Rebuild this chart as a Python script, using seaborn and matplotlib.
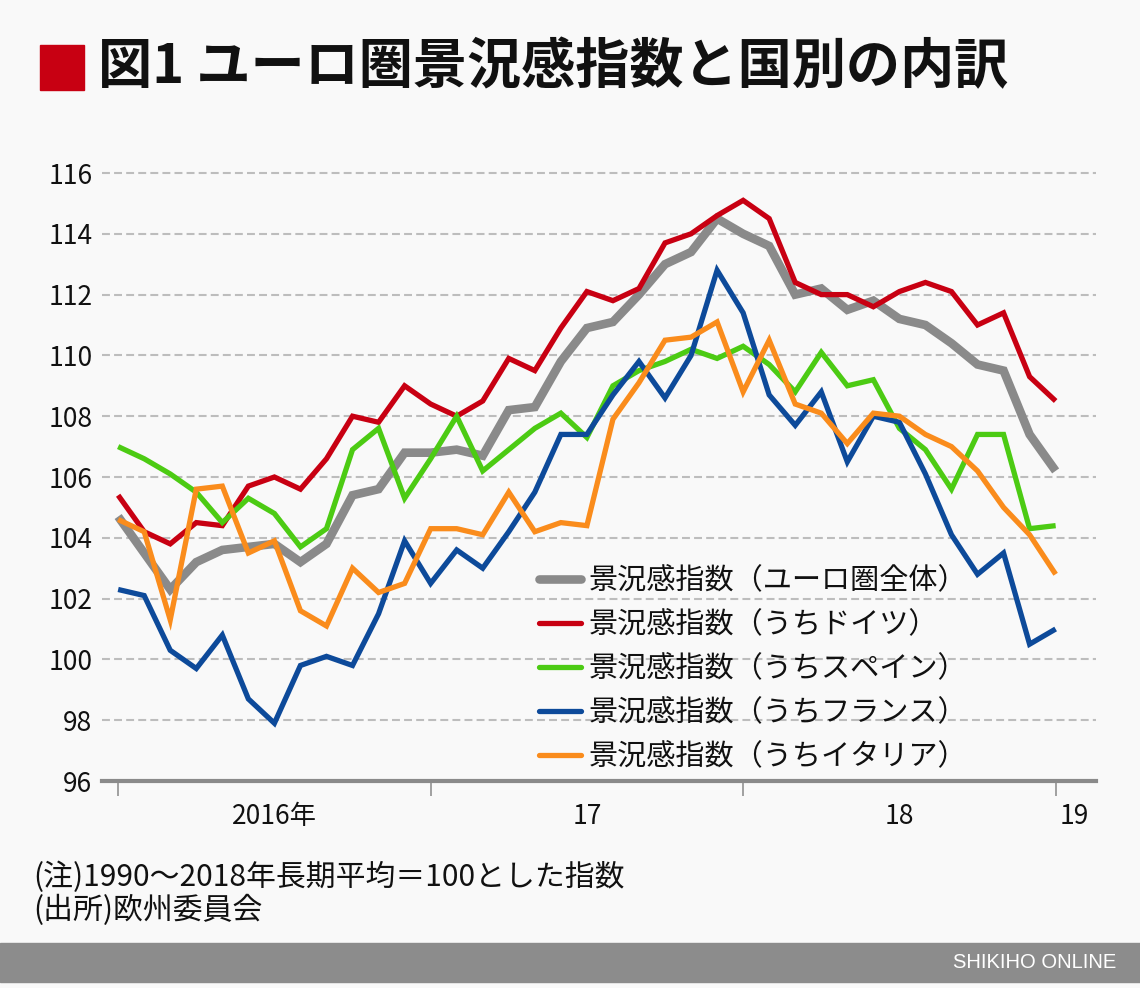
import numpy as np
import pandas as pd
import matplotlib
matplotlib.use("Agg")
import matplotlib.pyplot as plt
from matplotlib.patches import Rectangle
from matplotlib.lines import Line2D
import seaborn as sns

# ---------------- data ----------------
months = [f"{y}-{m:02d}" for y in (2016, 2017, 2018) for m in range(1, 13)] + ["2019-01"]

euro = [104.7, 103.5, 102.3, 103.2, 103.6, 103.7, 103.8, 103.2, 103.8, 105.4,
        105.6, 106.8, 106.8, 106.9, 106.7, 108.2, 108.3, 109.8, 110.9, 111.1,
        112.0, 113.0, 113.4, 114.5, 114.0, 113.6, 112.0, 112.2, 111.5, 111.8,
        111.2, 111.0, 110.4, 109.7, 109.5, 107.4, 106.2]
germany = [105.4, 104.2, 103.8, 104.5, 104.4, 105.7, 106.0, 105.6, 106.6, 108.0,
           107.8, 109.0, 108.4, 108.0, 108.5, 109.9, 109.5, 110.9, 112.1, 111.8,
           112.2, 113.7, 114.0, 114.6, 115.1, 114.5, 112.4, 112.0, 112.0, 111.6,
           112.1, 112.4, 112.1, 111.0, 111.4, 109.3, 108.5]
spain = [107.0, 106.6, 106.1, 105.5, 104.5, 105.3, 104.8, 103.7, 104.3, 106.9,
         107.6, 105.3, 106.6, 108.0, 106.2, 106.9, 107.6, 108.1, 107.3, 109.0,
         109.5, 109.8, 110.2, 109.9, 110.3, 109.7, 108.8, 110.1, 109.0, 109.2,
         107.6, 106.9, 105.6, 107.4, 107.4, 104.3, 104.4]
france = [102.3, 102.1, 100.3, 99.7, 100.8, 98.7, 97.9, 99.8, 100.1, 99.8,
          101.5, 103.9, 102.5, 103.6, 103.0, 104.2, 105.5, 107.4, 107.4, 108.7,
          109.8, 108.6, 110.0, 112.8, 111.4, 108.7, 107.7, 108.8, 106.5, 108.0,
          107.8, 106.1, 104.1, 102.8, 103.5, 100.5, 101.0]
italy = [104.6, 104.2, 101.3, 105.6, 105.7, 103.5, 103.9, 101.6, 101.1, 103.0,
         102.2, 102.5, 104.3, 104.3, 104.1, 105.5, 104.2, 104.5, 104.4, 107.9,
         109.1, 110.5, 110.6, 111.1, 108.8, 110.5, 108.4, 108.1, 107.1, 108.1,
         108.0, 107.4, 107.0, 106.2, 105.0, 104.1, 102.8]

series_labels = ["景況感指数（ユーロ圏全体）", "景況感指数（うちドイツ）",
                 "景況感指数（うちスペイン）", "景況感指数（うちフランス）",
                 "景況感指数（うちイタリア）"]
series_values = [euro, germany, spain, france, italy]
series_colors = ["#8a8a8a", "#c80012", "#4ccb13", "#0d4a9a", "#fa8c1c"]

year_tick_pos = [0, 12, 24, 36]
year_label_pos = [6, 18, 30, 36.7]
year_labels = ["2016年", "17", "18", "19"]
y_ticks = [96, 98, 100, 102, 104, 106, 108, 110, 112, 114, 116]

title = "図1 ユーロ圏景況感指数と国別の内訳"
note1 = "(注)1990〜2018年長期平均＝100とした指数"
note2 = "(出所)欧州委員会"
credit = "SHIKIHO ONLINE"

# ---------------- figure ----------------
sns.set_theme(style="white")
plt.rcParams["font.family"] = ["Noto Sans CJK JP", "DejaVu Sans"]

W, H = 1140, 988
BG = "#f9f9f9"
fig = plt.figure(figsize=(W / 100, H / 100), dpi=100, facecolor=BG)

def fx(px):
    return px / W

def fy(py):
    return 1 - py / H

ax_left, ax_right = 102, 1096
ax_bottom_px = 781
ytop_val = 116.5
px_per_unit = (781 - 173) / 20.0
ax_top_px = 173 - (ytop_val - 116) * px_per_unit
ax = fig.add_axes([fx(ax_left), fy(ax_bottom_px), fx(ax_right - ax_left),
                   (ax_bottom_px - ax_top_px) / H])
ax.set_facecolor(BG)

x = np.arange(len(months))
df = pd.DataFrame({"x": np.tile(x, len(series_values)),
                   "value": np.concatenate(series_values),
                   "series": np.repeat(series_labels, len(x))})

widths = [6.2, 3.8, 3.8, 3.8, 3.8]
for i in range(len(series_labels)):
    sub = df[df["series"] == series_labels[i]]
    sns.lineplot(data=sub, x="x", y="value", color=series_colors[i],
                 linewidth=widths[i], ax=ax, legend=False,
                 solid_joinstyle="miter", solid_capstyle="butt", zorder=3 + i)

ax.set_xlim(-0.62, 37.55)
ax.set_ylim(96, ytop_val)
ax.set_yticks(y_ticks)
ax.set_yticklabels([str(v) for v in y_ticks], fontsize=19, color="#111111")
ax.tick_params(axis="y", length=0, pad=7)

ax.set_xticks(year_tick_pos)
ax.set_xticklabels([""] * len(year_tick_pos))
ax.tick_params(axis="x", which="major", bottom=True, direction="out",
               length=11, width=1.1, color="#888888")
ax.set_xticks(year_label_pos, minor=True)
ax.set_xticklabels(year_labels, minor=True, fontsize=19, color="#111111")
ax.tick_params(axis="x", which="minor", bottom=True, length=0, pad=16)
ax.set_xlabel("")
ax.set_ylabel("")

for g in y_ticks[1:]:
    ax.axhline(g, color="#bdbdbd", linewidth=1.5, linestyle=(0, (3.8, 2.0)),
               zorder=1)

for s in ["top", "right", "left"]:
    ax.spines[s].set_visible(False)
ax.spines["bottom"].set_color("#8a8a8a")
ax.spines["bottom"].set_linewidth(3)
ax.spines["bottom"].set_zorder(10)

handles = [Line2D([0], [0], color=c, linewidth=w, solid_capstyle="round")
           for c, w in zip(series_colors, widths)]
leg = fig.legend(handles, series_labels, loc="upper left",
                 bbox_to_anchor=(fx(539), fy(566)), frameon=False,
                 fontsize=21, handlelength=1.45, handletextpad=0.25,
                 labelspacing=0.48, borderpad=0, borderaxespad=0)
for t in leg.get_texts():
    t.set_color("#111111")

# title
fig.patches.append(Rectangle((fx(40), fy(90)), fx(44), 45 / H,
                             transform=fig.transFigure, color="#c80012"))
fig.text(fx(98), fy(68), title, fontsize=39, fontweight="bold",
         color="#111111", va="center", ha="left")

# notes
fig.text(fx(33), fy(877), note1, fontsize=21.5, color="#111111",
         va="center", ha="left")
fig.text(fx(33), fy(910), note2, fontsize=21.5, color="#111111",
         va="center", ha="left")

# footer
fig.patches.append(Rectangle((0, fy(982)), 1, 39 / H,
                             transform=fig.transFigure, color="#8c8c8c"))
fig.text(fx(1116), fy(962), credit, fontsize=14.5, color="white",
         va="center", ha="right", family=["Liberation Sans", "DejaVu Sans"])

fig.savefig("out.png", dpi=100, facecolor=BG)
